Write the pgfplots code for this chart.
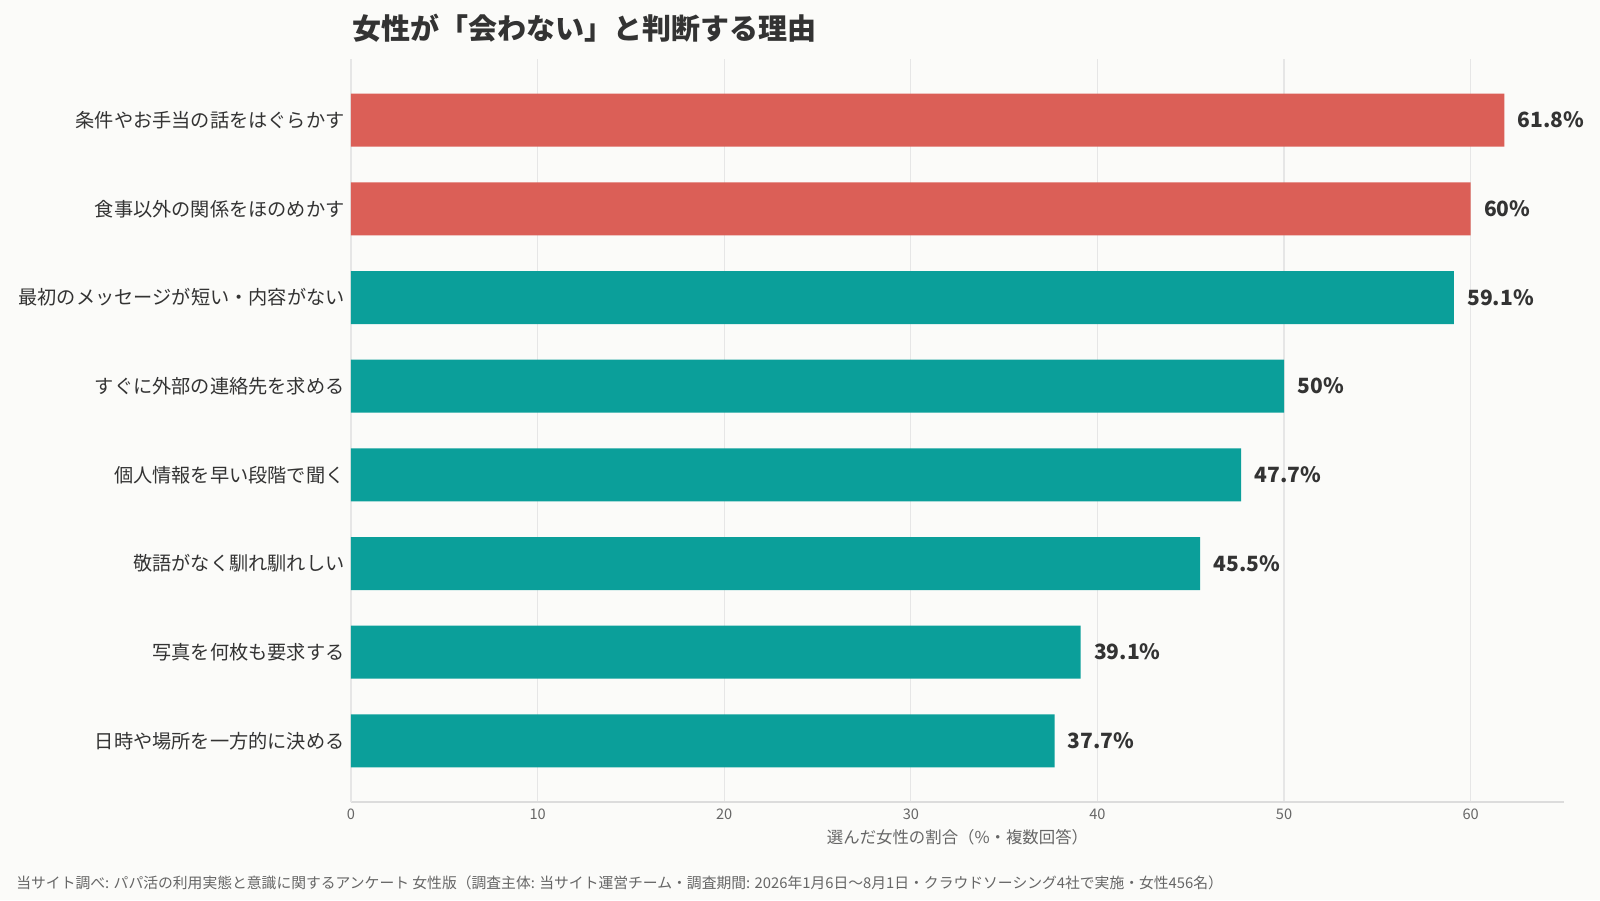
\documentclass[border=0pt]{standalone}
\usepackage{fontspec}
\setmainfont{Noto Sans CJK JP}
\usepackage{pgfplots}
\pgfplotsset{compat=1.18}
\definecolor{bg}{HTML}{FBFBF9}
\definecolor{redbar}{HTML}{DB5F57}
\definecolor{tealbar}{HTML}{0B9F9A}
\definecolor{txt}{HTML}{333333}
\definecolor{gtxt}{HTML}{666666}
\definecolor{gridc}{HTML}{E6E6E6}
\begin{document}
\begin{tikzpicture}
\fill[bg] (0,0) rectangle (800pt,450pt);
\useasboundingbox (0,0) rectangle (800pt,450pt);
\node[anchor=west, text=txt, font=\fontsize{14.5pt}{16pt}\selectfont\bfseries, inner sep=0pt] at (176pt,436pt) {女性が「会わない」と判断する理由};
\node[anchor=west, text=gtxt, font=\fontsize{7.4pt}{8pt}\selectfont, inner sep=0pt] at (8pt,8.5pt) {当サイト調べ: パパ活の利用実態と意識に関するアンケート 女性版（調査主体: 当サイト運営チーム・調査期間: 2026年1月6日〜8月1日・クラウドソーシング4社で実施・女性456名）};
\begin{axis}[
  at={(175.5pt,49pt)}, anchor=south west,
  scale only axis, width=606.5pt, height=371.5pt,
  xbar, bar width=26.5pt, bar shift=0pt,
  xmin=0, xmax=65,
  ymin=-0.69, ymax=7.69, y dir=reverse,
  ytick={0,...,7},
  yticklabels={条件やお手当の話をはぐらかす,食事以外の関係をほのめかす,最初のメッセージが短い・内容がない,すぐに外部の連絡先を求める,個人情報を早い段階で聞く,敬語がなく馴れ馴れしい,写真を何枚も要求する,日時や場所を一方的に決める},
  yticklabel style={font=\fontsize{9.6pt}{11pt}\selectfont, text=txt, inner sep=0pt, xshift=-3pt},
  xtick={0,10,...,60},
  xticklabel style={font=\fontsize{7.3pt}{8pt}\selectfont, text=gtxt},
  /pgf/number format/assume math mode=true,
  major tick length=0pt,
  xmajorgrids, grid style={gridc, line width=0.6pt},
  axis x line*=bottom, axis y line*=left,
  x axis line style={draw=gridc!90!gray, line width=0.6pt},
  y axis line style={draw=gridc, line width=0.6pt},
  xlabel={選んだ女性の割合（\%・複数回答）},
  xlabel style={font=\fontsize{8.2pt}{9pt}\selectfont, text=gtxt, yshift=2pt},
  nodes near coords, point meta=explicit symbolic,
  every node near coord/.append style={anchor=west, inner sep=0pt, xshift=6.5pt, text=txt, font=\fontsize{10.5pt}{12pt}\selectfont\bfseries},
  clip=false,
]
\addplot[fill=redbar, draw=none] coordinates {(61.8,0) [61.8\%] (60,1) [60\%]};
\addplot[fill=tealbar, draw=none] coordinates {(59.1,2) [59.1\%] (50,3) [50\%] (47.7,4) [47.7\%] (45.5,5) [45.5\%] (39.1,6) [39.1\%] (37.7,7) [37.7\%]};
\end{axis}
\end{tikzpicture}
\end{document}
